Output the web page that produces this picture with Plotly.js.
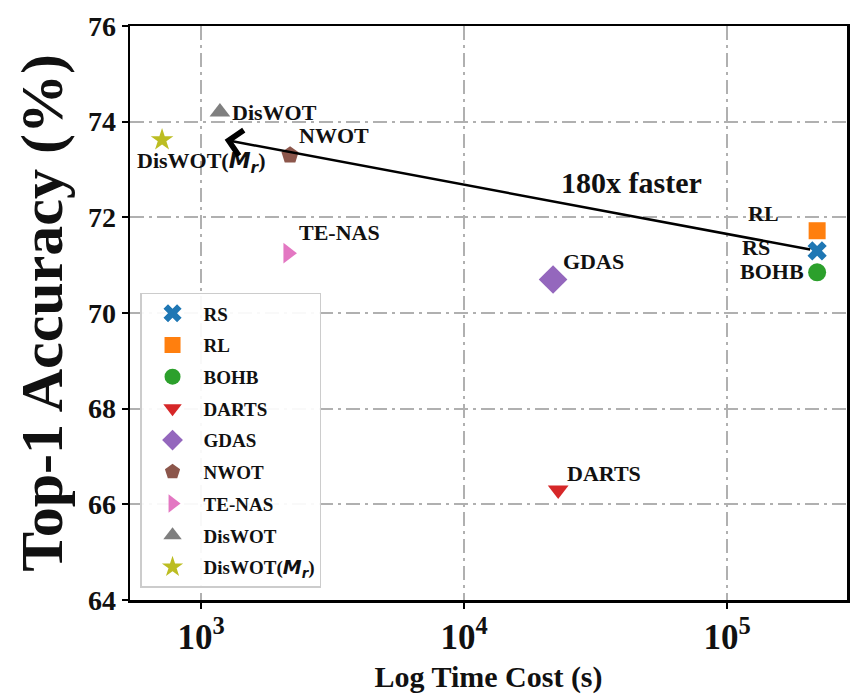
<!DOCTYPE html>
<html>
<head>
<meta charset="utf-8">
<script src="https://cdn.plot.ly/plotly-3.0.1.min.js"></script>
<style>html,body{margin:0;padding:0;background:#fff;}#chart{width:858px;height:699px;}</style>
</head>
<body>
<div id="chart"></div>
<script>
// ---- data ----
const methods = ["RS", "RL", "BOHB", "DARTS", "GDAS", "NWOT", "TE-NAS", "DisWOT", "DisWOT(Mr)"];
const legendLabels = ["RS", "RL", "BOHB", "DARTS", "GDAS", "NWOT", "TE-NAS", "DisWOT",
  "DisWOT(<span style=\"font-family:'DejaVu Sans';font-style:italic\">M<sub>r</sub></span>)"];
const timeCost = [220000, 220000, 220000, 22800, 21800, 2180, 2140, 1180, 711];
const accuracy = [71.3, 71.72, 70.85, 66.3, 70.7, 73.3, 71.25, 74.2, 73.62];
const yTicks = [64, 66, 68, 70, 72, 74, 76];
const arrowHead = {time: 1230, acc: 73.62};
const speedupText = "180x faster";
const speedupPos = {time: 43200, acc: 72.72};

// ---- styles ----
const colors = ["#1f77b4", "#ff7f0e", "#2ca02c", "#d62728", "#9467bd", "#8c564b", "#e377c2", "#7f7f7f", "#bcbd22"];
const symbols = ["x", "square", "circle", "triangle-down", "diamond", "pentagon", "triangle-right", "triangle-up", "star"];
const sizes = [17, 17, 18, 18, 22, 18, 18, 18, 17];
// label offsets in pixels (xshift, yshift) relative to each point, text anchored left-middle
const labelShift = [[-77, 3], [-71, 17], [-79, 1], [7, 16], [8, 18], [7, 20], [9, 21], [10, 0], [-27, -23]];

const serif = "'Liberation Serif', 'Times New Roman', serif";

const traces = methods.map((m, i) => ({
  type: "scatter",
  mode: "markers",
  x: [timeCost[i]],
  y: [accuracy[i]],
  name: legendLabels[i],
  legendgroup: "g" + i,
  marker: {color: colors[i], symbol: symbols[i], size: sizes[i], line: {width: 0}},
  hoverinfo: "x+y+name"
}));

const labelAnn = methods.map((m, i) => ({
  x: Math.log10(timeCost[i]),
  y: accuracy[i],
  xref: "x", yref: "y",
  text: i === 8 ? legendLabels[i] : m,
  showarrow: false,
  xanchor: "left", yanchor: "middle",
  xshift: labelShift[i][0], yshift: labelShift[i][1],
  font: {family: serif, size: 22, color: "#111", weight: "bold"}
}));

const arrowAnn = {
  x: Math.log10(arrowHead.time), y: arrowHead.acc,
  ax: Math.log10(timeCost[0]), ay: accuracy[0],
  xref: "x", yref: "y", axref: "x", ayref: "y",
  text: " ", showarrow: true,
  arrowhead: 4, arrowsize: 2, arrowwidth: 2.5, arrowcolor: "#000",
  standoff: 0, startstandoff: 4
};

const textAnn = {
  x: Math.log10(speedupPos.time), y: speedupPos.acc,
  xref: "x", yref: "y",
  text: speedupText, showarrow: false,
  font: {family: serif, size: 30, color: "#111", weight: "bold"}
};

const gridDash = "14px,5px,3px,5px";

const layout = {
  width: 858, height: 699,
  margin: {l: 130, r: 11, t: 26, b: 99},
  paper_bgcolor: "#fff", plot_bgcolor: "#fff",
  showlegend: true,
  legend: {
    x: 0.014, y: 0.535, xanchor: "left", yanchor: "top",
    bgcolor: "rgba(255,255,255,0.92)", bordercolor: "#cccccc", borderwidth: 1.5,
    font: {family: serif, size: 19, color: "#111", weight: "bold"},
    traceorder: "grouped", tracegroupgap: 4, itemwidth: 52
  },
  xaxis: {
    type: "log",
    range: [2.730, 5.456],
    dtick: 1,
    exponentformat: "power",
    showgrid: true, gridcolor: "#b0b0b0", gridwidth: 2, griddash: gridDash,
    showline: true, linecolor: "#000", linewidth: 2.5, mirror: true,
    ticks: "outside", ticklen: 6, tickwidth: 2, tickcolor: "#000",
    tickfont: {family: serif, size: 28, color: "#111", weight: "bold"},
    title: {text: "Log Time Cost (s)", font: {family: serif, size: 30, color: "#111", weight: "bold"}, standoff: 10},
    zeroline: false
  },
  yaxis: {
    range: [64, 76],
    tickvals: yTicks,
    ticktext: yTicks.map(String),
    showgrid: true, gridcolor: "#b0b0b0", gridwidth: 2, griddash: gridDash,
    showline: true, linecolor: "#000", linewidth: 2.5, mirror: true,
    ticks: "outside", ticklen: 6, tickwidth: 2, tickcolor: "#000",
    tickfont: {family: serif, size: 28, color: "#111", weight: "bold"},
    title: {text: "Top-1 Accuracy (%)", font: {family: serif, size: 60, color: "#111", weight: "bold"}, standoff: 6},
    zeroline: false
  },
  annotations: labelAnn.concat([arrowAnn, textAnn])
};

Plotly.newPlot("chart", traces, layout, {displayModeBar: false, staticPlot: true});
</script>
</body>
</html>
